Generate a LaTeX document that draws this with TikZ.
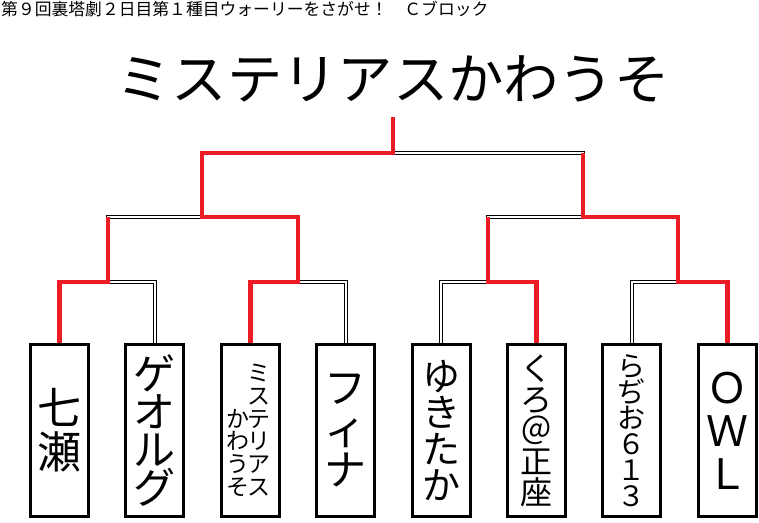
\documentclass[tikz,border=0pt]{standalone}
\usepackage{fontspec}
\setmainfont{Noto Sans CJK JP}
\usetikzlibrary{positioning}
\definecolor{winred}{RGB}{237,28,36}
\newcommand\tatefont[2]{\fontsize{#1}{#2}\selectfont\lineskiplimit=-\maxdimen}

\begin{document}
\begin{tikzpicture}[x=1pt, y=-1pt, node distance=34.4pt,
    player/.style={shape=rectangle, draw=black, line width=3pt,
                   minimum width=58pt, minimum height=172pt, inner sep=0pt, align=center},
    lose/.style={draw=black, double=white, double distance=2pt, line width=1pt},
    win/.style={draw=winred, line width=4.5pt}]
      \useasboundingbox (0,0) rectangle (759,522);

      \node[anchor=west, inner sep=0pt, font=\fontsize{16.8}{18}\selectfont] (heading)
           at (1,9) {第９回裏塔劇２日目第１種目ウォーリーをさがせ！　Ｃブロック};
      \node[font=\fontsize{55.3}{60}\selectfont] (title) at (393,79) {ミステリアスかわうそ};

      \node[player, font=\tatefont{44}{44}] (nanase) at (59.5,430.5) {七\\瀬};
      \node[player, font=\tatefont{42}{38}] (georg) [right=of nanase] {ゲ\\オ\\ル\\グ};
      \node[player, font=\tatefont{23}{22.7}] (kawauso) [right=of georg]
           {\parbox[b]{21pt}{\centering か\\わ\\う\\そ}\parbox[b]{21pt}{\centering ミ\\ス\\テ\\リ\\ア\\ス}\hspace{5pt}};
      \node[player, font=\tatefont{42}{41}] (fina) [right=of kawauso] {フ\\ィ\\ナ};
      \node[player, font=\tatefont{38}{36.5}] (yukitaka) [right=of fina] {ゆ\\き\\た\\か};
      \node[player, font=\tatefont{32}{31}] (kuro) [right=of yukitaka] {く\\ろ\\＠\\正\\座};
      \node[player, font=\tatefont{28}{26}] (radio) [right=of kuro] {ら\\ぢ\\お\\６\\１\\３};
      \node[player, font=\tatefont{42}{43}] (owl) [right=of radio] {Ｏ\\Ｗ\\Ｌ};

      % joints
      \coordinate (m1) at (108,282);
      \coordinate (m2) at (298,282);
      \coordinate (m3) at (488,282);
      \coordinate (m4) at (678,282);
      \coordinate (s1) at (202,217);
      \coordinate (s2) at (583,217);
      \coordinate (f) at (393,153);
      \coordinate (champ) at (393,117);

      \draw[lose] (georg.north) |- (m1);
      \draw[lose] (fina.north) |- (m2);
      \draw[lose] (yukitaka.north) |- (m3);
      \draw[lose] (radio.north) |- (m4);
      \draw[lose] (m1) |- (s1);
      \draw[lose] (m3) |- (s2);
      \draw[lose] (s2) |- (f);

      \draw[win] (nanase.north) |- (m1) -- (m1 |- s1);
      \draw[win] (kuro.north) |- (m3) -- (m3 |- s2);
      \draw[win] (owl.north) |- (m4) |- (s2) -- (s2 |- f);
      \draw[win] (kawauso.north) |- (m2) |- (s1) |- (f) -- (champ);
\end{tikzpicture}
\end{document}
